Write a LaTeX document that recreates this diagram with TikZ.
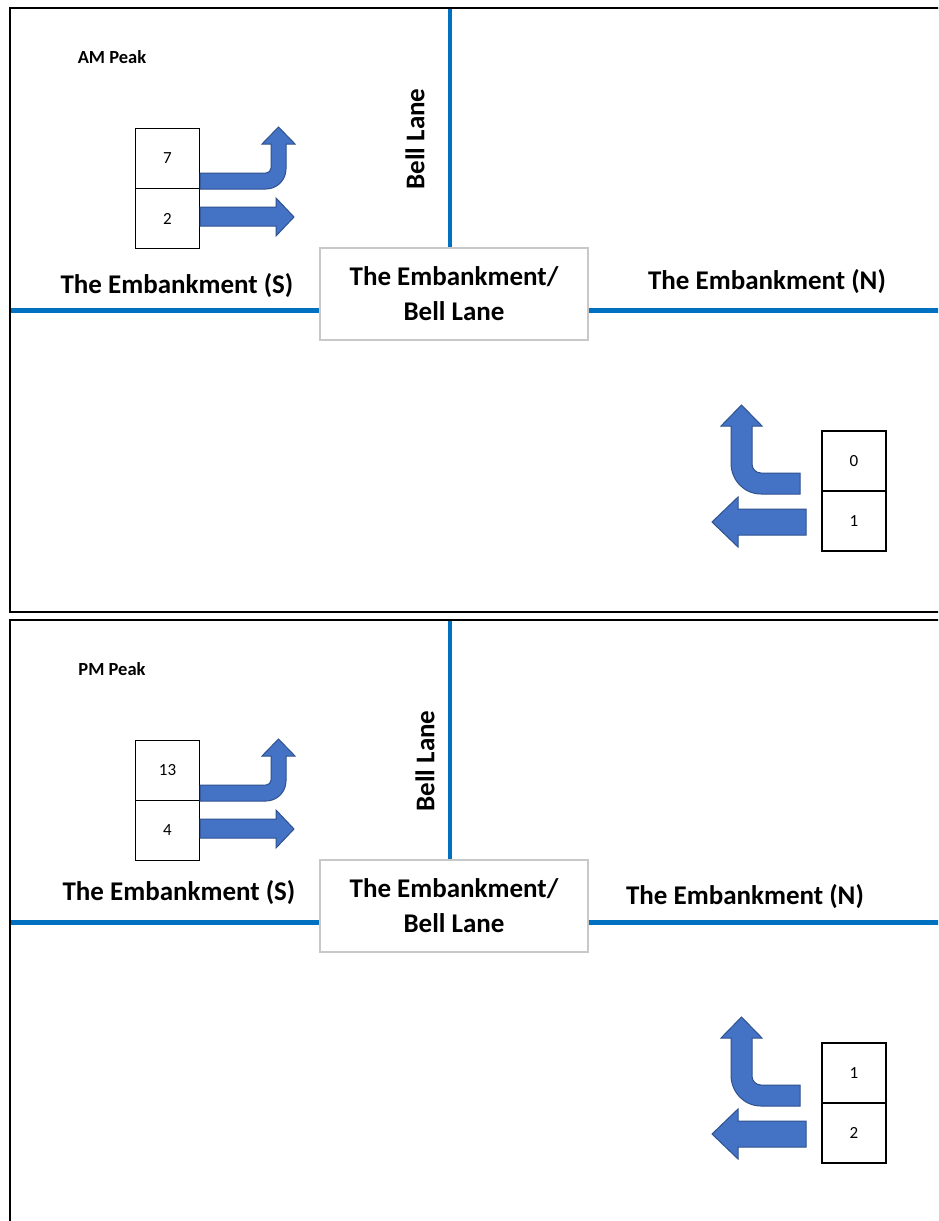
\documentclass[tikz,border=0pt]{standalone}
\usepackage{fontspec}
\setmainfont{Carlito}
\definecolor{roadblue}{HTML}{0070C0}
\definecolor{arrfill}{HTML}{4472C4}
\definecolor{arredge}{HTML}{2F528F}
\definecolor{boxgray}{HTML}{C8C8C8}
\begin{document}
\begin{tikzpicture}[x=1pt,y=-1pt,
 road/.style={draw=roadblue,line width=4.5pt},
 frame/.style={draw=black,line width=2pt},
 flow/.style={fill=arrfill,draw=arredge,line width=1pt},
 count/.style={draw=black,line width=1.8pt,minimum width=64pt,minimum height=60pt,inner sep=0pt,font=\fontsize{17}{20}\selectfont},
 junction/.style={draw=boxgray,line width=1.2pt,fill=white,minimum width=268pt,minimum height=92pt,inner sep=0pt,align=center,font=\fontsize{27}{35}\bfseries\selectfont},
 roadlabel/.style={font=\fontsize{27}{32}\bfseries\selectfont,inner sep=0pt},
 peak/.style={font=\fontsize{18.5}{22}\bfseries\selectfont,inner sep=0pt}]
\useasboundingbox (0,0) rectangle (938,1221);
\clip (0,0) rectangle (938,1221);
\fill[white] (0,0) rectangle (938,1221);

% ---------- Panel 1 (AM) ----------
\draw[frame] (10,8) rectangle (960,612);
\node[peak] (amp) at (112,57) {AM Peak};
\node[junction] (j1) at (454,294) {The Embankment/\\Bell Lane};
\coordinate (n1) at (450,9);
\coordinate (w1) at (11,310.5);
\coordinate (e1) at (940,310.5);
\draw[road] (n1) -- (n1 |- j1.north);
\draw[road] (w1) -- (w1 -| j1.west);
\draw[road] (j1.east |- e1) -- (e1);
\node[roadlabel,rotate=90] (bl1) at (415,139) {Bell Lane};
\node[roadlabel] (s1) at (177,286) {The Embankment (S)};
\node[roadlabel] (nn1) at (767,282) {The Embankment (N)};
\node[count] (a7) at (167.5,158.5) {7};
\node[count] (a2) at (167.5,218.5) {2};
\node[count] (a0) at (854,461) {0};
\node[count] (a1) at (854,521) {1};

% ---------- Panel 2 (PM) ----------
\draw[frame] (10,620) rectangle (960,1240);
\node[peak] (pmp) at (112,669) {PM Peak};
\node[junction] (j2) at (454,906) {The Embankment/\\Bell Lane};
\coordinate (n2) at (450,621);
\coordinate (w2) at (11,922.5);
\coordinate (e2) at (940,922.5);
\draw[road] (n2) -- (n2 |- j2.north);
\draw[road] (w2) -- (w2 -| j2.west);
\draw[road] (j2.east |- e2) -- (e2);
\node[roadlabel,rotate=90] (bl2) at (425,761) {Bell Lane};
\node[roadlabel] (s2) at (179,893) {The Embankment (S)};
\node[roadlabel] (nn2) at (745,897) {The Embankment (N)};
\node[count] (p13) at (167.5,770.5) {13};
\node[count] (p4) at (167.5,830.5) {4};
\node[count] (p1) at (854,1073) {1};
\node[count] (p2) at (854,1133) {2};

% ---------- Flow arrows ----------
\foreach \dy in {0,612}{
 \begin{scope}[yshift=-\dy pt]
  % left turn then up
  \draw[flow] (200,173) -- (266,173) .. controls (268.8,173) and (271,170.8) .. (271,168)
    -- (271,144) -- (262,144) -- (278.5,127) -- (295,144) -- (286,144) -- (286,169)
    .. controls (286,180) and (277,189) .. (266,189) -- (200,189) -- cycle;
  % straight ahead
  \draw[flow] (200,207) -- (276,207) -- (276,198) -- (294,217) -- (276,236) -- (276,226) -- (200,226) -- cycle;
  % right group: turn then up
  \draw[flow] (800,473) -- (761,473) .. controls (756,473) and (752,469) .. (752,464)
    -- (752,426) -- (762,426) -- (741.5,405) -- (721,426) -- (731,426) -- (731,463)
    .. controls (731,480) and (744,494) .. (761,494) -- (800,494) -- cycle;
  % right group: straight ahead
  \draw[flow] (806,509) -- (738,509) -- (738,497) -- (712,522) -- (738,547) -- (738,535) -- (806,535) -- cycle;
 \end{scope}
}
\end{tikzpicture}
\end{document}
